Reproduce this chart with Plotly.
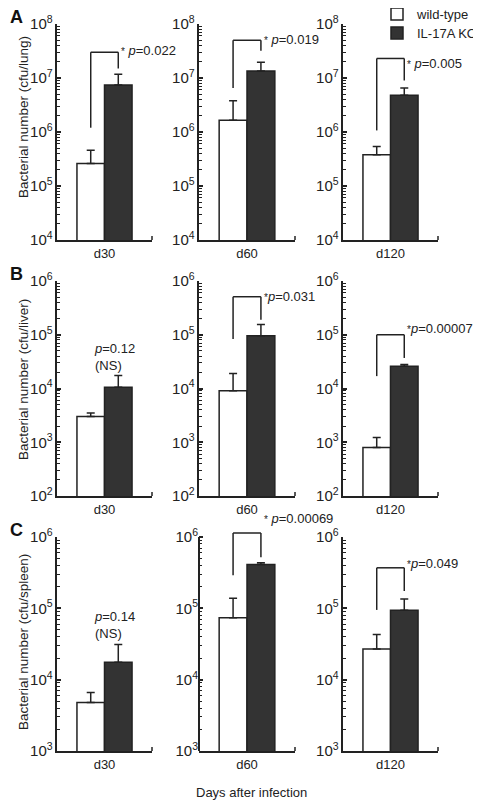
import math
import plotly.graph_objects as go

# ---------------- data ----------------
days = ["d30", "d60", "d120"]
organs = ["lung", "liver", "spleen"]
panel_letters = ["A", "B", "C"]

# bar heights (cfu)
wt_lung = [2.6e5, 1.65e6, 3.8e5]
ko_lung = [7.4e6, 1.35e7, 4.8e6]
wt_liver = [3.0e3, 9.1e3, 8.0e2]
ko_liver = [1.05e4, 9.6e4, 2.6e4]
wt_spleen = [4.8e3, 7.4e4, 2.7e4]
ko_spleen = [1.75e4, 4.1e5, 9.4e4]

# top of error bars (cfu)
wt_lung_errtop = [4.6e5, 3.8e6, 5.4e5]
ko_lung_errtop = [1.17e7, 1.95e7, 6.5e6]
wt_liver_errtop = [3.5e3, 1.9e4, 1.23e3]
ko_liver_errtop = [1.75e4, 1.55e5, 2.8e4]
wt_spleen_errtop = [6.6e3, 1.38e5, 4.3e4]
ko_spleen_errtop = [3.1e4, 4.35e5, 1.35e5]

# p-value labels
STAR = "<span style='font-size:10px'>*</span>"
p_lung = [STAR + " <i>p</i>=0.022", STAR + " <i>p</i>=0.019", STAR + " <i>p</i>=0.005"]
p_liver = ["<i>p</i>=0.12<br>(NS)", STAR + "<i>p</i>=0.031", STAR + "<i>p</i>=0.00007"]
p_spleen = ["<i>p</i>=0.14<br>(NS)", STAR + " <i>p</i>=0.00069", STAR + "<i>p</i>=0.049"]

# significance brackets: top, bottom of left leg, bottom of right leg (None = no bracket)
bracket_lung = [(3.0e7, 1.2e6, 1.5e7), (5.0e7, 6.5e6, 3.2e7), (2.3e7, 1.07e6, 9.0e6)]
bracket_liver = [None, (5.1e5, 8.3e4, 1.9e5), (1.0e5, 1.7e4, 3.7e4)]
bracket_spleen = [None, (1.14e6, 2.9e5, 5.2e5), (3.7e5, 9.5e4, 1.75e5)]
# height of the "(NS)" labels
ns_height = [None, 3.8e4, 5.9e4]

# axis ranges (log10)
y_ranges = [(4, 8), (2, 6), (3, 6)]

wt = [wt_lung, wt_liver, wt_spleen]
ko = [ko_lung, ko_liver, ko_spleen]
wt_et = [wt_lung_errtop, wt_liver_errtop, wt_spleen_errtop]
ko_et = [ko_lung_errtop, ko_liver_errtop, ko_spleen_errtop]
pvals = [p_lung, p_liver, p_spleen]
brackets = [bracket_lung, bracket_liver, bracket_spleen]

# ---------------- layout constants ----------------
PAGE_W, PAGE_H = 481, 800
BODY = 8                       # default page margin around the figure
W, H = PAGE_W - BODY, PAGE_H - BODY
FONT = "Liberation Sans, Arial, sans-serif"
INK = "#222"
col_px = [(57, 152), (199, 295), (343, 438)]      # page pixels
row_px = [(24, 240), (281, 496), (537, 751)]
title_center_px = [117, 380, 642]
letter_center_px = [17, 274, 530]
legend_center_px = [14, 33]
label_shift_px = [[2, 1, -5], [0, 0, 6], [0, 14, 4]]  # vertical nudge of p labels
BARGAP = 0.42
OFF = (1 - BARGAP) / 4  # centre offset of each bar within a group


def fx(px):
    return (px - BODY) / W


def fy(py):
    return 1 - (py - BODY) / H


fig = go.Figure()
layout = dict(
    width=W, height=H, margin=dict(l=0, r=0, t=0, b=0, autoexpand=False),
    paper_bgcolor="white", plot_bgcolor="white",
    barmode="group", bargap=BARGAP, bargroupgap=0,
    font=dict(family=FONT, color=INK, size=13),
    showlegend=True,
)
for i, lname in enumerate(["legend", "legend2"]):
    layout[lname] = dict(x=fx(418 - 41), y=fy(legend_center_px[i]), xanchor="left",
                         yanchor="middle", font=dict(size=13, color=INK), itemwidth=30,
                         bgcolor="rgba(0,0,0,0)", borderwidth=0)

shapes = []
annotations = []

for r in range(3):
    for c in range(3):
        k = r * 3 + c + 1
        xa = "x" if k == 1 else f"x{k}"
        ya = "y" if k == 1 else f"y{k}"
        xname = "xaxis" if k == 1 else f"xaxis{k}"
        yname = "yaxis" if k == 1 else f"yaxis{k}"
        day = days[c]
        w_val, k_val = wt[r][c], ko[r][c]
        fig.add_trace(go.Bar(
            x=[day], y=[w_val], name="wild-type", legendgroup="wt", legend="legend",
            showlegend=(k == 1), xaxis=xa, yaxis=ya,
            marker=dict(color="white", line=dict(color=INK, width=1.5)),
            error_y=dict(type="data", symmetric=False, array=[wt_et[r][c] - w_val],
                         arrayminus=[0], color=INK, thickness=1.5, width=4),
        ))
        fig.add_trace(go.Bar(
            x=[day], y=[k_val], name="IL-17A KO", legendgroup="ko", legend="legend2",
            showlegend=(k == 1), xaxis=xa, yaxis=ya,
            marker=dict(color="#333333", line=dict(color=INK, width=1.5)),
            error_y=dict(type="data", symmetric=False, array=[ko_et[r][c] - k_val],
                         arrayminus=[0], color=INK, thickness=1.5, width=4),
        ))

        x0, x1 = col_px[c]
        yt, yb = row_px[r]
        lo, hi = y_ranges[r]
        br = brackets[r][c]
        extend = 0.0
        # let the axis area reach a bracket that sits above the top decade
        if br is not None and math.log10(br[0]) > hi:
            extend = math.log10(br[0]) - hi + 0.03
        px_per_dec = (yb - yt) / (hi - lo)
        yt_ext = yt - extend * px_per_dec

        layout[xname] = dict(
            domain=[fx(x0), fx(x1)], anchor=ya, type="category",
            range=[-0.5, 0.5], showline=True, linewidth=2, linecolor=INK,
            ticks="", tickfont=dict(size=13, color=INK), showgrid=False,
            zeroline=False, fixedrange=True,
        )
        layout[yname] = dict(
            domain=[fy(yb), fy(yt_ext)], anchor=xa, type="log",
            range=[lo, hi + extend], dtick=1, tick0=0, exponentformat="power",
            showexponent="all", showline=(extend == 0), linewidth=2, linecolor=INK,
            ticks="inside", ticklen=4, tickwidth=1.5, tickcolor=INK,
            tickfont=dict(size=12, color=INK), showgrid=False, zeroline=False,
            minor=dict(dtick="D1", ticks="inside", ticklen=3, tickwidth=1,
                       tickcolor=INK, showgrid=False),
            fixedrange=True,
        )
        if extend:
            shapes.append(dict(type="line", xref=f"{xa} domain", yref=ya,
                               x0=0, x1=0, y0=10 ** lo, y1=10 ** hi,
                               line=dict(color=INK, width=2)))
        # little up-tick at the right end of the x axis
        shapes.append(dict(type="line", xref=f"{xa} domain", yref=f"{ya} domain",
                           x0=1, x1=1, y0=0, y1=4 / (yb - yt_ext),
                           line=dict(color=INK, width=1.5)))

        if br is not None:
            top, lbot, rbot = br
            for (sx0, sy0, sx1, sy1) in [(-OFF, lbot, -OFF, top), (-OFF, top, OFF, top),
                                         (OFF, top, OFF, rbot)]:
                shapes.append(dict(type="line", xref=xa, yref=ya, x0=sx0, y0=sy0,
                                   x1=sx1, y1=sy1, line=dict(color=INK, width=1.5)))
            annotations.append(dict(xref=xa, yref=ya, x=OFF, y=math.log10(top),
                                    text=pvals[r][c], showarrow=False, xanchor="left",
                                    yanchor="middle", xshift=1,
                                    yshift=label_shift_px[r][c],
                                    font=dict(size=13, color=INK)))
        else:
            annotations.append(dict(xref=xa, yref=ya, x=-OFF, y=math.log10(ns_height[r]),
                                    text=pvals[r][c], showarrow=False, xanchor="left",
                                    yanchor="middle", align="left", xshift=1,
                                    font=dict(size=13, color=INK)))

    # y-axis title of the row
    annotations.append(dict(xref="paper", yref="paper", x=fx(23),
                            y=fy(title_center_px[r]),
                            text=f"Bacterial number (cfu/{organs[r]})", textangle=-90,
                            showarrow=False, xanchor="center", yanchor="middle",
                            font=dict(size=13.5, color=INK)))
    annotations.append(dict(xref="paper", yref="paper", x=fx(BODY),
                            y=fy(letter_center_px[r]), text=f"<b>{panel_letters[r]}</b>",
                            showarrow=False, xanchor="left", yanchor="middle",
                            font=dict(size=18, color="#111")))

annotations.append(dict(xref="paper", yref="paper", x=fx(252), y=fy(792),
                        text="Days after infection", showarrow=False,
                        xanchor="center", yanchor="middle",
                        font=dict(size=13, color=INK)))

layout["shapes"] = shapes
layout["annotations"] = annotations
fig.update_layout(**layout)
fig.write_html("out.html")
